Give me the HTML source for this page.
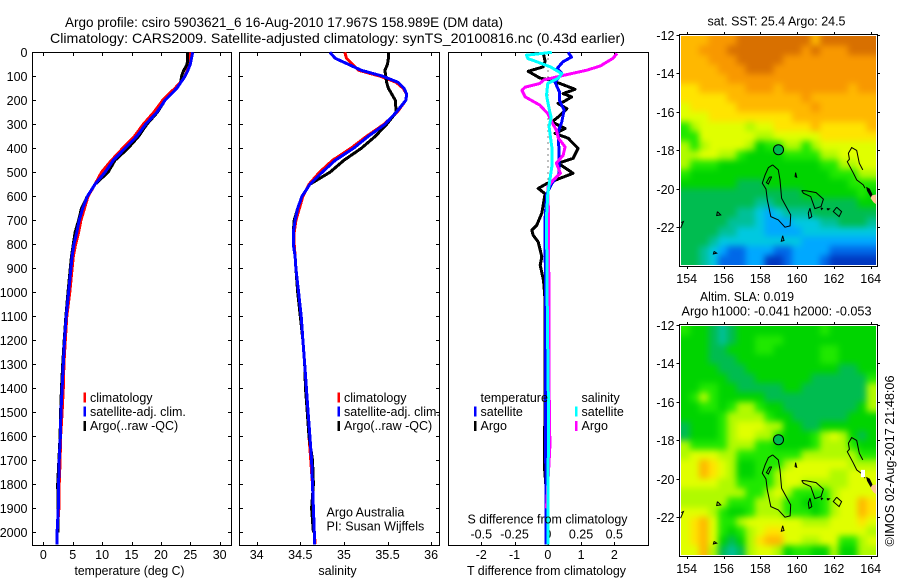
<!DOCTYPE html>
<html lang="en">
<head>
<meta charset="utf-8">
<title>Argo profile</title>
<style>
html,body{margin:0;padding:0;background:#fff;width:900px;height:580px;overflow:hidden}
svg{display:block}
text{font-family:"Liberation Sans",sans-serif;font-size:12.5px;fill:#000}
</style>
</head>
<body>
<svg id="figure" xmlns="http://www.w3.org/2000/svg" width="900" height="580" viewBox="0 0 900 580">
  <defs>
    <filter id="heat-smooth" filterUnits="userSpaceOnUse" x="650" y="0" width="250" height="580" color-interpolation-filters="sRGB">
      <feGaussianBlur stdDeviation="3.2"/>
    </filter>
    <clipPath id="clip-top"><rect x="681" y="36" width="195" height="229"/></clipPath>
    <clipPath id="clip-bottom"><rect x="681" y="326" width="195" height="229"/></clipPath>
  </defs>
  <rect x="0" y="0" width="900" height="580" fill="#fff"/>
  <text x="65" y="27" textLength="438" lengthAdjust="spacingAndGlyphs" style="font-size:14px">Argo profile: csiro 5903621_6 16-Aug-2010 17.967S 158.989E (DM data)</text>
  <text x="50" y="43" textLength="575" lengthAdjust="spacingAndGlyphs" style="font-size:14px">Climatology: CARS2009. Satellite-adjusted climatology: synTS_20100816.nc (0.43d earlier)</text>
  <g id="p1"></g>
  <g id="p2"></g>
  <g id="p3"></g>
  <g id="m1"></g>
  <g id="m2"></g>
  <text x="129.5" y="575" text-anchor="middle" textLength="110" lengthAdjust="spacingAndGlyphs">temperature (deg C)</text>
  <text x="337.5" y="575" text-anchor="middle">salinity</text>
  <text x="546.5" y="575" text-anchor="middle" textLength="159" lengthAdjust="spacingAndGlyphs">T difference from climatology</text>
  <text x="547.5" y="523.5" text-anchor="middle" textLength="160" lengthAdjust="spacingAndGlyphs">S difference from climatology</text>
  <text x="326.5" y="516.5">Argo Australia</text>
  <text x="326.5" y="530.5">PI: Susan Wijffels</text>
  <text x="707.5" y="25.5" textLength="138" lengthAdjust="spacingAndGlyphs">sat. SST: 25.4  Argo: 24.5</text>
  <text x="700" y="301" textLength="94" lengthAdjust="spacingAndGlyphs">Altim. SLA: 0.019</text>
  <text x="681.5" y="315.5" textLength="190" lengthAdjust="spacingAndGlyphs">Argo h1000: -0.041  h2000: -0.053</text>
  <text transform="translate(894,546.5) rotate(-90)" textLength="171" lengthAdjust="spacingAndGlyphs">©IMOS 02-Aug-2017 21:48:06</text>
</svg>
<script>
// ---------- profile data ----------
const depths = [0,25,50,75,100,125,150,175,200,250,300,350,400,450,500,550,600,650,700,750,800,850,900,1000,1100,1200,1300,1400,1500,1600,1700,1800,1900,2000,2050];
const tempClim = [24.95,24.9,24.8,24.5,24.1,23.3,22.4,21.3,20.3,18.8,17,15.5,13.5,11.6,9.9,8.8,7.6,7.0,6.4,6.0,5.5,5.1,4.9,4.5,4.0,3.75,3.5,3.4,3.2,2.95,2.85,2.7,2.65,2.35,2.35];
const tempSat = [25.4,25.2,25.0,24.6,24.1,23.4,22.7,21.7,20.7,19.3,17.4,15.9,13.9,11.9,10.5,8.8,7.5,6.7,6.1,5.7,5.2,4.9,4.7,4.3,3.9,3.6,3.4,3.2,3.0,2.9,2.7,2.6,2.55,2.35,2.3];
const tempArgo = [24.5,24.55,24.45,23.9,23.5,23.4,22.7,21.7,20.7,19.4,17.6,16.2,14.4,12.2,11.0,8.8,7.5,6.5,6.0,5.4,5.1,4.8,4.6,4.2,3.85,3.55,3.3,3.1,2.95,2.85,2.65,2.45,2.5,2.5];
const salClim = [35.01,35.03,35.1,35.17,35.42,35.6,35.68,35.72,35.71,35.61,35.46,35.26,35.08,34.87,34.72,34.6,34.53,34.49,34.45,34.43,34.43,34.44,34.45,34.47,34.5,34.53,34.55,34.57,34.58,34.6,34.62,34.64,34.65,34.66,34.67];
const salSat = [34.84,34.9,35.05,35.2,35.45,35.62,35.69,35.72,35.71,35.6,35.47,35.28,35.11,34.9,34.75,34.61,34.52,34.47,34.44,34.42,34.42,34.44,34.45,34.48,34.51,34.53,34.55,34.57,34.59,34.61,34.63,34.64,34.65,34.66,34.66];
const salArgo = [35.51,35.51,35.5,35.47,35.48,35.49,35.51,35.55,35.59,35.6,35.49,35.36,35.2,35.0,34.84,34.61,34.52,34.47,34.43,34.42,34.42,34.44,34.45,34.47,34.5,34.53,34.55,34.56,34.58,34.6,34.64,34.65,34.63,34.65];

const dtSatDepths = [0,20,40,68,88,125,165,200,241,290,332,421,506,547,589,692,800,1000,1500,2000,2050];
const dtSat = [0.61,0.71,0.45,0.28,0.42,0.22,0.35,0.35,0.49,0.42,0.31,0.34,0.34,0.12,-0.03,-0.08,-0.08,-0.07,-0.07,-0.05,-0.05];
const dtArgoDepths = [0,37,61,79,107,117,154,172,186,207,213,235,270,290,318,338,358,400,442,462,504,533,547,567,589,670,720,741,762,790,852,887,950,1032,1500,1600,1730,1800];
const dtArgo = [-0.14,-0.08,-0.14,-0.59,-0.24,0.12,0.82,0.46,0.72,0.46,0.31,0.57,0.31,0.12,0.52,0.22,0.61,0.91,0.76,0.31,0.76,0.22,-0.03,-0.29,-0.08,-0.18,-0.33,-0.48,-0.44,-0.29,-0.18,-0.23,-0.13,-0.08,-0.08,-0.1,-0.1,-0.06];
const dsSatDepths = [0,12,26,40,61,89,108,129,179,249,270,311,394,478,533,589,686,1000,1500,2050];
const dsSat = [0.03,-0.16,-0.15,-0.08,0.02,0.105,0.08,0,-0.01,0.015,0.025,0.01,0.03,0.03,0.015,0,-0.01,-0.005,0.005,0];
const dsArgoDepths = [5,25,57,75,96,115,130,145,158,186,220,256,290,325,358,394,429,462,504,533,561,645,1000,1400,1640,1750,1900];
const dsArgo = [0.52,0.49,0.395,0.29,0.12,-0.03,-0.06,-0.17,-0.195,-0.17,-0.06,0,0.03,0.065,0.08,0.13,0.115,0.065,0.095,0.04,0,0.004,0.008,0.01,0.016,0.005,-0.01];

// ---------- tick labels ----------
const depthTicks = [0,100,200,300,400,500,600,700,800,900,1000,1100,1200,1300,1400,1500,1600,1700,1800,1900,2000];
const tempTicks = [0,5,10,15,20,25,30];
const salTicks = [34,34.5,35,35.5,36];
const dtTicks = [-2,-1,0,1,2];
const dsTicks = [-0.5,-0.25,0,0.25,0.5];
const lonTicks = [154,156,158,160,162,164];
const latTicks = [-12,-14,-16,-18,-20,-22];

// ---------- map data: colour-level grids, rows north to south ----------
const sstLevels = [
[11,11,11,12,12,12,13,13,13,13,13,13,13,13,11,13,13,13,13,13,13],
[11,11,12,12,12,13,13,13,13,13,13,13,13,12,13,12,12,12,13,13,13],
[11,11,11,12,12,12,13,13,13,13,13,12,12,12,12,12,12,12,12,12,12],
[11,11,11,11,12,12,12,13,13,13,12,12,12,12,12,12,12,12,12,12,12],
[11,11,11,11,11,12,12,12,12,12,12,12,12,12,12,12,12,12,12,12,12],
[10,10,11,11,11,11,11,12,12,12,11,12,12,12,12,12,12,12,11,12,12],
[10,10,10,10,10,11,11,11,11,11,11,11,11,12,11,11,11,11,11,11,11],
[9,10,10,10,10,10,11,11,11,11,11,11,11,11,12,11,11,11,11,11,11],
[9,9,9,10,10,10,10,10,10,10,10,10,11,11,11,11,11,11,11,11,11],
[7,8,9,9,9,9,9,8,9,9,10,10,10,10,11,10,10,10,10,10,11],
[7,7,9,9,9,9,9,9,8,8,9,9,9,9,9,10,10,10,10,10,10],
[8,7,8,9,9,9,9,8,6,7,7,8,8,7,8,9,9,9,9,9,9],
[8,8,9,9,8,8,7,6,6,6,6,7,7,7,7,8,8,9,9,9,9],
[8,7,7,7,6,6,6,6,6,6,6,6,6,6,6,7,7,8,8,9,9],
[7,6,6,6,6,6,6,6,6,6,6,6,6,6,6,6,7,7,7,8,8],
[6,6,6,6,6,6,5,5,5,6,6,6,6,6,6,6,6,6,7,7,7],
[5,5,5,5,5,5,5,5,5,5,5,5,5,6,6,6,6,6,6,7,6],
[5,5,5,5,5,5,5,5,4,4,5,5,5,5,5,5,5,5,5,6,6],
[5,5,5,5,5,5,4,4,3,2,3,4,4,4,5,5,5,5,5,5,5],
[5,5,5,5,5,4,4,4,3,2,2,2,3,3,3,4,4,5,5,5,4],
[5,5,5,5,4,4,3,3,3,2,2,2,2,3,3,3,3,3,3,3,3],
[5,5,5,4,3,3,3,3,3,3,3,3,3,2,2,2,2,2,2,2,2],
[5,5,4,3,2,1,1,2,2,2,1,1,2,2,2,2,1,1,1,1,1],
[5,5,4,3,1,1,1,2,2,0,0,1,2,2,2,1,0,0,0,0,0]
];
const slaLevels = [
[7,6,6,5,4,5,6,6,6,6,6,6,6,6,6,7,6,6,6,6,6],
[6,6,6,5,4,5,6,6,7,7,7,6,6,6,6,6,6,6,6,6,6],
[6,6,6,5,5,6,6,6,7,7,6,6,6,6,6,7,7,6,6,6,6],
[6,6,6,5,5,5,6,6,6,6,6,6,6,6,6,7,7,6,6,6,6],
[6,6,6,6,5,5,5,6,6,6,6,6,6,6,6,6,6,5,5,6,6],
[6,6,6,6,6,5,5,5,6,6,6,6,6,6,5,5,5,5,5,5,7],
[6,6,7,7,6,6,5,5,5,5,5,6,6,5,5,5,5,5,5,5,8],
[6,7,8,7,6,6,6,6,6,5,5,5,5,5,5,5,5,5,5,5,8],
[6,6,7,7,6,7,8,8,7,6,6,5,5,5,5,5,5,5,5,6,8],
[6,6,6,6,7,8,8,8,8,7,6,6,5,5,5,5,5,5,6,6,6],
[5,6,6,6,7,8,9,9,9,8,8,6,6,5,5,6,6,6,6,6,6],
[5,6,6,6,7,8,9,9,8,8,7,6,6,6,7,8,9,8,6,5,6],
[8,7,7,7,7,8,8,8,7,7,6,6,6,6,7,8,8,8,7,6,6],
[8,9,9,9,8,8,7,7,7,7,7,7,7,8,8,8,8,8,8,7,7],
[9,9,11,10,9,8,6,6,7,7,7,8,9,9,9,9,9,9,8,8,8],
[9,9,11,10,9,8,6,6,7,7,8,9,9,9,9,9,8,8,9,9,9],
[9,9,9,9,8,8,7,7,7,7,8,9,9,8,8,8,8,8,9,9,9],
[8,8,8,8,8,8,8,7,7,8,9,8,7,7,7,7,8,9,9,9,9],
[8,8,8,8,8,7,7,7,8,8,8,7,7,6,6,7,8,9,9,11,10],
[9,9,9,8,7,6,6,7,8,8,8,7,7,7,6,7,8,9,9,11,10],
[9,10,11,9,7,7,8,9,9,9,9,9,9,8,8,8,9,9,9,10,9],
[9,10,11,9,7,6,7,8,9,10,10,9,9,9,9,9,9,9,9,9,8],
[9,10,11,9,6,5,6,8,10,11,11,9,9,8,8,9,9,7,7,8,9],
[9,9,11,8,5,4,5,8,9,9,8,6,7,7,6,6,8,6,6,8,8]
];
const levelColours = ['#0038c0','#0068e8','#00a8ff','#00c8e0','#00c098','#00bc50','#00d400','#20e800','#b0fa00','#e0ff00','#ffe400','#ffb800','#f89800','#d87000'];
const coastlines = [
 [[158.67,-18.76],[158.44,-18.9],[158.26,-19.28],[158.11,-19.71],[158.31,-20.02],[158.38,-20.58],[158.57,-21.45],[158.98,-21.62],[159.34,-22.0],[159.62,-21.93],[159.65,-21.36],[159.16,-20.49],[159.07,-19.54],[158.98,-19.02],[158.67,-18.76]],
 [[158.62,-19.37],[158.44,-19.75],[158.33,-19.68],[158.5,-19.4],[158.62,-19.37]],
 [[163.69,-19.97],[163.6,-19.8],[163.24,-19.54],[163.06,-19.19],[162.73,-18.59],[162.84,-18.46],[162.79,-18.15],[162.97,-17.86],[163.24,-18.01],[163.38,-18.67],[163.57,-19.02]],
 [[160.25,-20.09],[160.52,-20.11],[161.03,-20.2],[161.43,-20.54],[161.3,-20.93],[160.97,-21.03],[160.74,-20.41],[160.34,-20.23],[160.25,-20.09]],
 [[160.7,-21.01],[160.8,-21.45],[160.65,-21.54],[160.61,-21.27],[160.7,-21.01]],
 [[162.15,-20.96],[162.42,-21.19],[162.28,-21.45],[161.97,-21.19],[162.15,-20.96]],
 [[155.67,-21.19],[155.85,-21.36],[155.63,-21.39],[155.67,-21.19]],
 [[153.7,-21.76],[153.82,-21.71],[153.67,-22.05]],
 [[159.22,-22.45],[159.29,-22.69],[159.14,-22.73],[159.22,-22.45]],
 [[155.49,-23.26],[155.63,-23.35],[155.45,-23.39],[155.49,-23.26]],
 [[159.92,-19.16],[159.98,-19.4],[159.89,-19.37],[159.92,-19.16]],
 [[161.3,-21.0],[161.38,-21.02],[161.33,-21.08],[161.3,-21.0]],
 [[161.62,-21.03],[161.75,-21.05],[161.68,-21.1],[161.62,-21.03]]
];
const darkLand = [[163.75,-19.9],[163.95,-20.0],[164.1,-20.3],[164.0,-20.45],[163.8,-20.1]];
const paleLand = [[164.05,-20.35],[164.28,-20.3],[164.28,-20.8],[164.15,-20.7],[164.0,-20.5]];
const slaMissing = [[163.47,-19.54],[163.69,-19.54],[163.69,-19.92],[163.47,-19.92]];
const profileLon = 158.989;
const profileLat = -17.967;
const sstProfileLevel = 5;
const slaProfileLevel = 5;

// ---------- geometry and scales ----------
const SVGNS = 'http://www.w3.org/2000/svg';
const panelTop = 52.5, panelBottom = 545.5;
const yDepth = d => 52.3 + d * 0.24;
const xTemp = t => 43.3 + t * 5.88;
const xSal = s => 256.7 + (s - 34) * 87.2;
const xDT = t => 547.8 + t * 33.25;
const xDS = s => 547.8 + s * 133;
const xLon = lon => 686.7 + (lon - 154) * 18.4;
const yLatTop = lat => 35 + (-12 - lat) * 19.22;
const yLatBot = lat => 325 + (-12 - lat) * 19.22;

function node(parent, tag, name) {
  const el = document.createElementNS(SVGNS, tag);
  
  
  parent.appendChild(el);
  return el;
}
function line(parent, name, x1, y1, x2, y2, colour, width) {
  const el = node(parent, 'line', name);
  el.setAttribute('x1', x1);
  el.setAttribute('y1', y1);
  el.setAttribute('x2', x2);
  el.setAttribute('y2', y2);
  el.setAttribute('stroke', colour);
  el.setAttribute('stroke-width', width);
  el.setAttribute('shape-rendering', 'crispEdges');
  return el;
}
function label(parent, name, str, x, y, anchor) {
  const el = node(parent, 'text', name);
  el.setAttribute('x', x);
  el.setAttribute('y', y);
  el.setAttribute('text-anchor', anchor);
  el.textContent = str;
  return el;
}
function frame(parent, name, x1, y1, x2, y2) {
  const el = node(parent, 'rect', name);
  el.setAttribute('x', x1);
  el.setAttribute('y', y1);
  el.setAttribute('width', x2 - x1);
  el.setAttribute('height', y2 - y1);
  el.setAttribute('fill', 'none');
  el.setAttribute('stroke', '#000');
  el.setAttribute('stroke-width', 1);
  el.setAttribute('shape-rendering', 'crispEdges');
  return el;
}
function series(parent, name, xs, ds, xScale, colour, width) {
  const el = node(parent, 'polyline', name);
  const pts = xs.map((v, i) => xScale(v).toFixed(1) + ',' + yDepth(ds[i]).toFixed(1));
  el.setAttribute('points', pts.join(' '));
  el.setAttribute('fill', 'none');
  el.setAttribute('stroke', colour);
  el.setAttribute('stroke-width', width);
  el.setAttribute('stroke-linejoin', 'round');
  el.setAttribute('shape-rendering', 'crispEdges');
  return el;
}

// ---------- profile panels ----------
function drawPanel(g, left, right, xTicks, xScale, fmt, showDepthLabels, showDepthTicks) {
  xTicks.forEach(t => {
    const x = Math.round(xScale(t)) + 0.5;
    line(g, 'x-tick-top', x, panelTop, x, panelTop + 3.5, '#000', 1);
    line(g, 'x-tick-bottom', x, panelBottom - 3.5, x, panelBottom, '#000', 1);
    label(g, 'x-tick-label', fmt(t), xScale(t), 559, 'middle');
  });
  if (showDepthTicks) {
    depthTicks.forEach(d => {
      const y = Math.round(yDepth(d)) + 0.5;
      line(g, 'y-tick-left', left, y, left + 3.5, y, '#000', 1);
      line(g, 'y-tick-right', right - 3.5, y, right, y, '#000', 1);
      if (showDepthLabels) label(g, 'y-tick-label', String(d), 27.5, y + 4.5, 'end');
    });
  }
}
function legend(g, x, entries) {
  const rows = [[397.5, 402], [411.5, 416], [426, 430]];
  entries.forEach((entry, i) => {
    const row = rows[i];
    if (entry[1]) {
      line(g, 'legend-swatch', x + 1, row[0] - 5, x + 1, row[0] + 5, entry[1], 2.5);
    }
    label(g, 'legend-entry', entry[0], x + 6.5, row[1], 'start');
  });
}

const p1 = document.getElementById('p1');
frame(p1, 'temperature-plot-frame', 32.5, panelTop, 231.5, panelBottom);
drawPanel(p1, 32.5, 231.5, tempTicks, xTemp, String, true, true);
series(p1, 'temperature-climatology-line', tempClim, depths, xTemp, '#ff0000', 3);
series(p1, 'temperature-argo-line', tempArgo, depths, xTemp, '#000000', 3);
series(p1, 'temperature-satellite-line', tempSat, depths, xTemp, '#0000ff', 3);
legend(p1, 83.5, [['climatology', '#ff0000'], ['satellite-adj. clim.', '#0000ff'], ['Argo(..raw -QC)', '#000000']]);

const p2 = document.getElementById('p2');
frame(p2, 'salinity-plot-frame', 239.5, panelTop, 439.5, panelBottom);
drawPanel(p2, 239.5, 439.5, salTicks, xSal, String, false, true);
series(p2, 'salinity-climatology-line', salClim, depths, xSal, '#ff0000', 3);
series(p2, 'salinity-argo-line', salArgo, depths, xSal, '#000000', 3);
series(p2, 'salinity-satellite-line', salSat, depths, xSal, '#0000ff', 3);
legend(p2, 337.5, [['climatology', '#ff0000'], ['satellite-adj. clim.', '#0000ff'], ['Argo(..raw -QC)', '#000000']]);

const p3 = document.getElementById('p3');
frame(p3, 'difference-plot-frame', 448.5, panelTop, 648.5, panelBottom);
drawPanel(p3, 448.5, 648.5, dtTicks, xDT, String, false, false);
dsTicks.forEach(s => {
  label(p3, 's-difference-tick-label', String(s), xDS(s), 538.5, 'middle');
});
const zeroLine = line(p3, 'zero-line', xDT(0), panelTop, xDT(0), panelBottom, '#000', 1);
zeroLine.setAttribute('stroke-dasharray', '1 5');
series(p3, 'temperature-argo-difference-line', dtArgo, dtArgoDepths, xDT, '#000000', 3);
series(p3, 'temperature-satellite-difference-line', dtSat, dtSatDepths, xDT, '#0000ff', 3);
series(p3, 'salinity-argo-difference-line', dsArgo, dsArgoDepths, xDS, '#ff00ff', 3);
series(p3, 'salinity-satellite-difference-line', dsSat, dsSatDepths, xDS, '#00ffff', 3);
legend(p3, 474, [['temperature', null], ['satellite', '#0000ff'], ['Argo', '#000000']]);
legend(p3, 575, [['salinity', null], ['satellite', '#00ffff'], ['Argo', '#ff00ff']]);

// ---------- maps ----------
const imgLonStart = 153.67, imgLonEnd = 164.28, imgLatStart = -12.04, imgLatEnd = -23.97;
function levelColour(v) {
  return levelColours[Math.floor(v)];
}
function polyPoints(points, yLat) {
  return points.map(p => xLon(p[0]).toFixed(1) + ',' + yLat(p[1]).toFixed(1)).join(' ');
}
function drawMap(g, prefix, levels, yLat, frameTop, frameBottom, circleLevel, clipId) {
  const nRows = levels.length, nCols = levels[0].length;
  const dLon = (imgLonEnd - imgLonStart) / nCols, dLat = (imgLatStart - imgLatEnd) / nRows;
  const clip = node(g, 'g', prefix + '-heatmap-clip');
  clip.setAttribute('clip-path', 'url(#' + clipId + ')');
  const heat = node(clip, 'g', prefix + '-heatmap');
  heat.setAttribute('filter', 'url(#heat-smooth)');
  const bleed = 14;
  levels.forEach((row, r) => {
    row.forEach((v, c) => {
      const cell = node(heat, 'rect', prefix + '-heatmap-cell');
      let x0 = xLon(imgLonStart + c * dLon), x1 = xLon(imgLonStart + (c + 1) * dLon);
      let y0 = yLat(imgLatStart - r * dLat), y1 = yLat(imgLatStart - (r + 1) * dLat);
      if (c === 0) x0 -= bleed;
      if (c === nCols - 1) x1 += bleed;
      if (r === 0) y0 -= bleed;
      if (r === nRows - 1) y1 += bleed;
      cell.setAttribute('x', x0.toFixed(2));
      cell.setAttribute('y', y0.toFixed(2));
      cell.setAttribute('width', (x1 - x0 + 0.4).toFixed(2));
      cell.setAttribute('height', (y1 - y0 + 0.4).toFixed(2));
      cell.setAttribute('fill', levelColour(v));
      cell.setAttribute('shape-rendering', 'crispEdges');
    });
  });
  frame(g, prefix + '-map-frame', 679.5, frameTop, 877.5, frameBottom);
  lonTicks.forEach(lon => {
    const x = Math.round(xLon(lon)) + 0.5;
    line(g, prefix + '-lon-tick-top', x, frameTop - 2.5, x, frameTop, '#000', 1);
    line(g, prefix + '-lon-tick-bottom', x, frameBottom, x, frameBottom + 2.5, '#000', 1);
    label(g, prefix + '-lon-tick-label', String(lon), xLon(lon), frameBottom + 16.5, 'middle');
  });
  latTicks.forEach(lat => {
    const y = Math.round(yLat(lat)) + 0.5;
    line(g, prefix + '-lat-tick-left', 676.5, y, 679.5, y, '#000', 1);
    line(g, prefix + '-lat-tick-right', 877.5, y, 880, y, '#000', 1);
    label(g, prefix + '-lat-tick-label', String(lat), 674.5, y + 4.5, 'end');
  });
  coastlines.forEach(shape => {
    const el = node(g, 'polyline', prefix + '-coastline');
    el.setAttribute('points', polyPoints(shape, yLat));
    el.setAttribute('fill', 'none');
    el.setAttribute('stroke', '#000');
    el.setAttribute('stroke-width', 1);
  });
  const pale = node(g, 'polygon', prefix + '-land-patch');
  pale.setAttribute('points', polyPoints(paleLand, yLat));
  pale.setAttribute('fill', '#ffc090');
  const dark = node(g, 'polygon', prefix + '-dark-land-patch');
  dark.setAttribute('points', polyPoints(darkLand, yLat));
  dark.setAttribute('fill', '#000');
  const circle = node(g, 'circle', prefix + '-profile-location');
  circle.setAttribute('cx', xLon(profileLon).toFixed(1));
  circle.setAttribute('cy', yLat(profileLat).toFixed(1));
  circle.setAttribute('r', 5);
  circle.setAttribute('fill', levelColour(circleLevel));
  circle.setAttribute('stroke', '#000');
  circle.setAttribute('stroke-width', 1);
}
const m1 = document.getElementById('m1');
const m2 = document.getElementById('m2');
drawMap(m1, 'sst', sstLevels, yLatTop, 34.5, 266.5, sstProfileLevel, 'clip-top');
drawMap(m2, 'sla', slaLevels, yLatBot, 324.5, 556.5, slaProfileLevel, 'clip-bottom');
const missing = node(m2, 'polygon', 'sla-missing-data-patch');
missing.setAttribute('points', polyPoints(slaMissing, yLatBot));
missing.setAttribute('fill', '#fff');
</script>
</body>
</html>
